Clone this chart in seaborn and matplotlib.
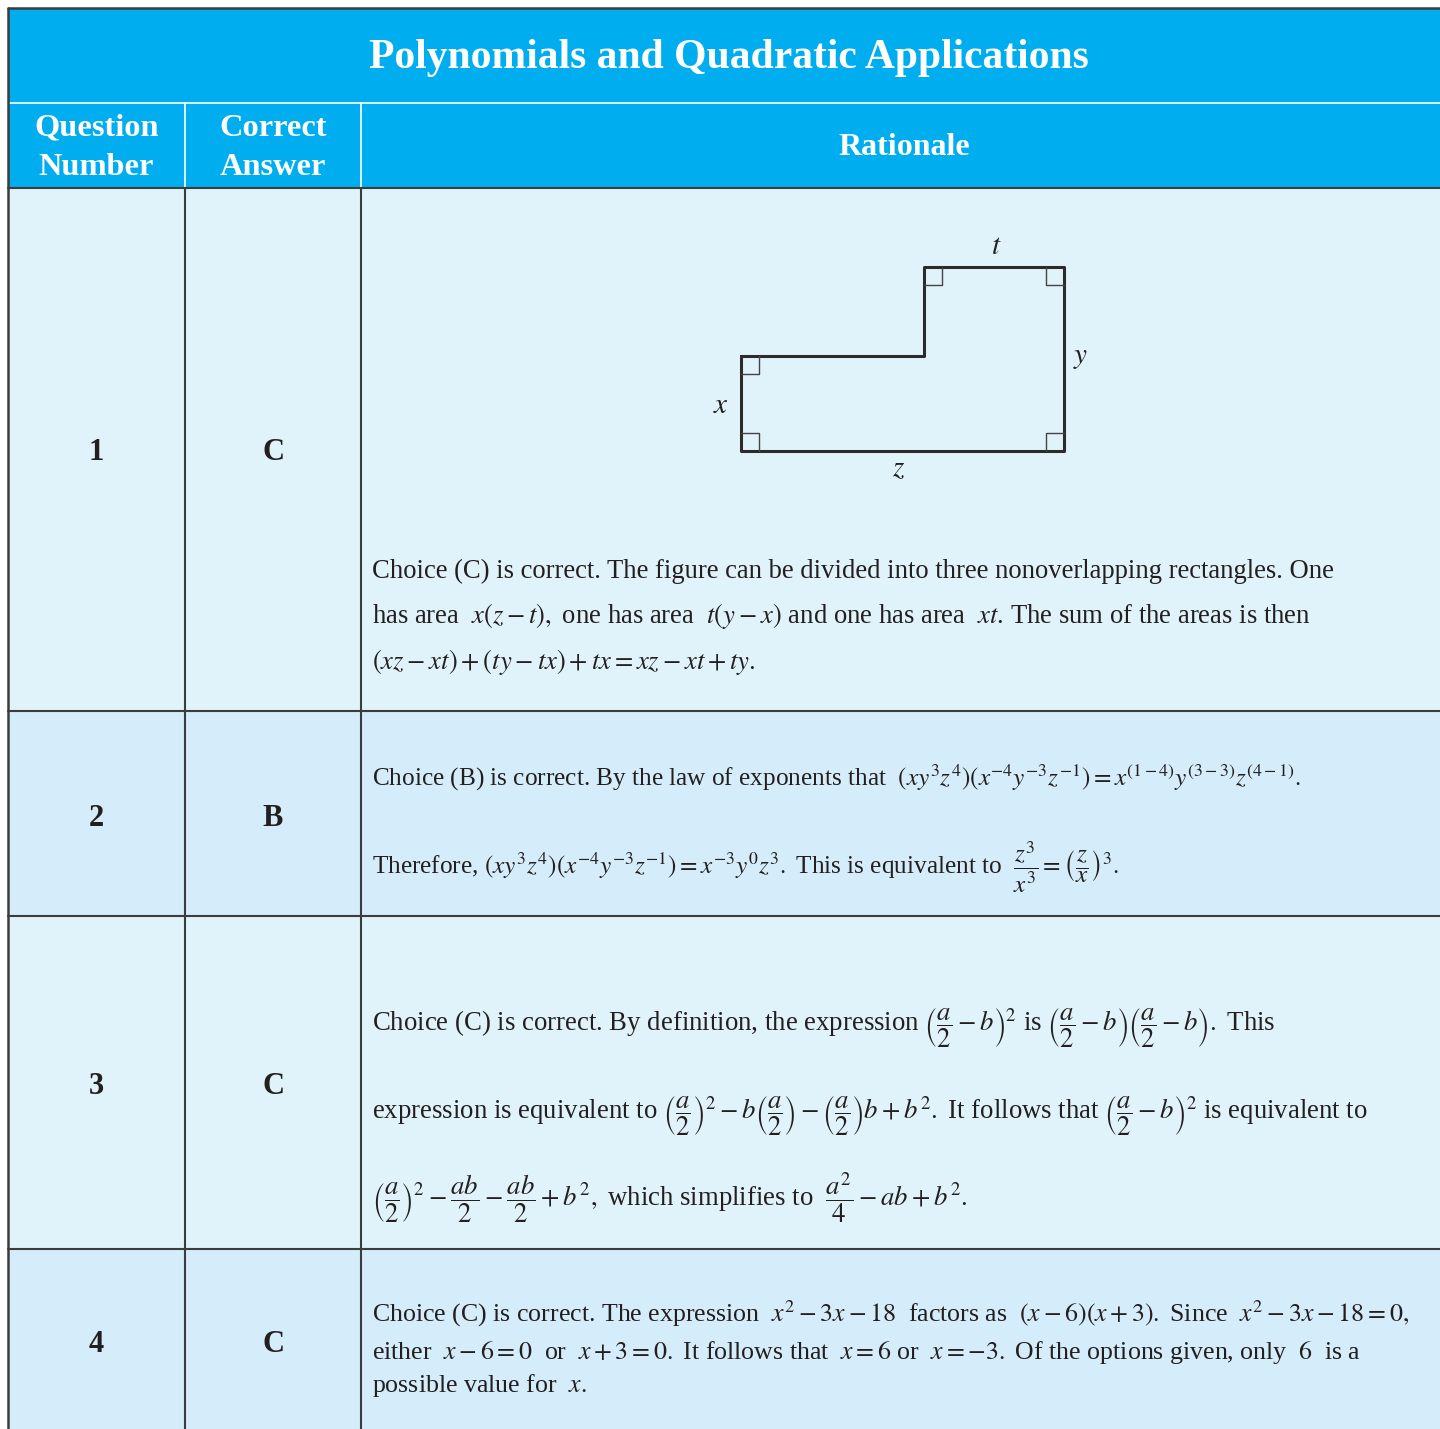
import matplotlib
matplotlib.use("Agg")
import matplotlib.pyplot as plt
from matplotlib.patches import Rectangle
import seaborn as sns

# table content
title = "Polynomials and Quadratic Applications"
column_headers = ["Question\nNumber", "Correct\nAnswer", "Rationale"]
question_numbers = ["1", "2", "3", "4"]
correct_answers = ["C", "B", "C", "C"]

rationale_lines = [
    [
        "Choice (C) is correct. The figure can be divided into three nonoverlapping rectangles. One",
        r"has area $\ x(z-t),$ one has area $\ t(y-x)$ and one has area $\ xt$. The sum of the areas is then",
        r"$(xz-xt)+(ty-tx)+tx=xz-xt+ty.$",
    ],
    [
        r"Choice (B) is correct. By the law of exponents that $\ (xy^3z^4)(x^{-4}y^{-3}z^{-1})=x^{(1-4)}y^{(3-3)}z^{(4-1)}.$",
        r"Therefore, $(xy^3z^4)(x^{-4}y^{-3}z^{-1})=x^{-3}y^0z^3.$ This is equivalent to $\ \dfrac{z^3}{x^3}=\left(\dfrac{z}{x}\right)^3.$",
    ],
    [
        r"Choice (C) is correct. By definition, the expression $\left(\dfrac{a}{2}-b\right)^2$ is $\left(\dfrac{a}{2}-b\right)\left(\dfrac{a}{2}-b\right).$ This",
        r"expression is equivalent to $\left(\dfrac{a}{2}\right)^2-b\left(\dfrac{a}{2}\right)-\left(\dfrac{a}{2}\right)b+b^2.$ It follows that $\left(\dfrac{a}{2}-b\right)^2$ is equivalent to",
        r"$\left(\dfrac{a}{2}\right)^2-\dfrac{ab}{2}-\dfrac{ab}{2}+b^2,$ which simplifies to $\ \dfrac{a^2}{4}-ab+b^2.$",
    ],
    [
        r"Choice (C) is correct. The expression $\ x^2-3x-18\ $ factors as $\ (x-6)(x+3).$ Since $\ x^2-3x-18=0,$",
        r"either $\ x-6=0\ $ or $\ x+3=0.$ It follows that $\ x=6$ or $\ x=-3.$ Of the options given, only $\ 6\ $ is a",
        r"possible value for $\ x.$",
    ],
]

# side lengths of the L-shaped figure (in pixels)
len_z = 323
len_t = 140
len_x = 95
len_y = 184

# layout
W, H = 1440, 1429
left, top = 8, 8
col_edges = [left, 185, 361, W + 5]
title_bottom = 103
header_bottom = 188
row_edges = [header_bottom, 711, 916, 1249, H + 5]
row_colors = ["#E0F3FB", "#D5EDFA", "#E0F3FB", "#D5EDFA"]
line_baselines = [[578, 623, 669], [786, 874], [1031, 1119, 1206], [1321, 1359, 1392]]
row_fontsize = [19.2, 18.2, 19.3, 18.6]
header_blue = "#00AEEF"
border = "#3C3C3C"
ink = "#231F20"

sns.set_theme(style="white")
plt.rcParams["font.family"] = ["Liberation Serif", "DejaVu Serif"]
plt.rcParams["mathtext.fontset"] = "stix"

fig = plt.figure(figsize=(14.4, 14.29), dpi=100)
ax = fig.add_axes([0, 0, 1, 1])
ax.set_xlim(0, W)
ax.set_ylim(H, 0)
ax.axis("off")

# header block
ax.add_patch(Rectangle((left, top), W - left + 5, header_bottom - top,
                       facecolor=header_blue, edgecolor="none"))
ax.plot([left, W + 5], [title_bottom, title_bottom], color="white", lw=1.2)
for xe in col_edges[1:3]:
    ax.plot([xe, xe], [title_bottom, header_bottom], color="white", lw=1.2)
ax.text((left + W) / 2 + 5, 58, title, ha="center", va="center", color="white",
        fontsize=30, fontweight="bold")
for i, lab in enumerate(column_headers):
    cx = (col_edges[i] + min(col_edges[i + 1], W)) / 2
    if i == 2:
        cx += 4
    parts = lab.split("\n")
    if len(parts) == 2:
        ax.text(cx, 128, parts[0], ha="center", va="center", color="white",
                fontsize=23.3, fontweight="bold")
        ax.text(cx, 167, parts[1], ha="center", va="center", color="white",
                fontsize=23.3, fontweight="bold")
    else:
        ax.text(cx, 147, parts[0], ha="center", va="center", color="white",
                fontsize=23, fontweight="bold")

# body rows
for r in range(len(question_numbers)):
    y0, y1 = row_edges[r], row_edges[r + 1]
    ax.add_patch(Rectangle((left, y0), W - left + 5, y1 - y0,
                           facecolor=row_colors[r], edgecolor="none"))
    yc = [452, 818, 1086, 1344][r]
    ax.text((col_edges[0] + col_edges[1]) / 2, yc, question_numbers[r],
            ha="center", va="center", fontsize=22, fontweight="bold", color=ink)
    ax.text((col_edges[1] + col_edges[2]) / 2, yc, correct_answers[r],
            ha="center", va="center", fontsize=22, fontweight="bold", color=ink)
    for line, yb in zip(rationale_lines[r], line_baselines[r]):
        ax.text(372, yb, line, ha="left", va="baseline",
                fontsize=row_fontsize[r], color=ink)

# grid lines
for ye in row_edges[:-1]:
    ax.plot([left, W + 5], [ye, ye], color=border, lw=1.5)
for xe in col_edges[1:3]:
    ax.plot([xe, xe], [header_bottom, H + 5], color=border, lw=1.5)
ax.plot([left, left], [top, H + 5], color=border, lw=1.8)
ax.plot([left, W + 5], [top, top], color=border, lw=1.8)

# L-shaped figure
x0, yb0 = 741, 451
shape_x = [x0, x0 + len_z - len_t, x0 + len_z - len_t, x0 + len_z, x0 + len_z, x0, x0]
shape_y = [yb0 - len_x, yb0 - len_x, yb0 - len_y, yb0 - len_y, yb0, yb0, yb0 - len_x]
sns.lineplot(x=shape_x, y=shape_y, sort=False, estimator=None, ax=ax,
             color="#2B2B2B", lw=2.2)

# right-angle marks (corner x, corner y, direction x, direction y)
s = 18
for cx, cy, dx, dy in [(shape_x[0], shape_y[0], 1, 1), (shape_x[2], shape_y[2], 1, 1),
                       (shape_x[3], shape_y[3], -1, 1), (shape_x[4], shape_y[4], -1, -1),
                       (shape_x[5], shape_y[5], 1, -1)]:
    ax.plot([cx + dx * s, cx + dx * s, cx], [cy, cy + dy * s, cy + dy * s],
            color="#444444", lw=1.0)

lab_kw = dict(ha="center", va="center", fontsize=21, color=ink)
ax.text((shape_x[2] + shape_x[3]) / 2 + 2, shape_y[2] - 20, r"$t$", **lab_kw)
ax.text(shape_x[3] + 17, (shape_y[3] + shape_y[4]) / 2 - 1, r"$y$", **lab_kw)
ax.text(shape_x[0] - 20, (shape_y[0] + shape_y[5]) / 2 + 2, r"$x$", **lab_kw)
ax.text((shape_x[4] + shape_x[5]) / 2 - 4, shape_y[5] + 18, r"$z$", **lab_kw)

fig.savefig("out.png", dpi=100, facecolor="white")
